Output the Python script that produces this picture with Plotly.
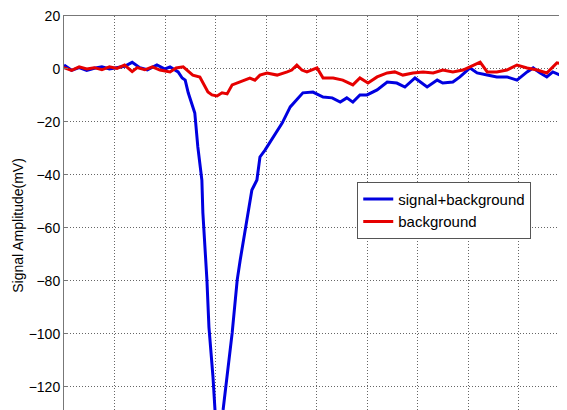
import plotly.graph_objects as go

# Sample axis (arbitrary units; gridlines every 10)
blue_x = [0, 1.5, 3, 4.5, 6, 7.5, 9, 10.5, 12, 13.5, 15, 16.5, 18.4, 20, 21, 22.6,
          23.4, 24.0, 24.6, 25.9, 26.5, 27.3, 27.5, 28.3, 28.7, 29.5, 29.9, 30.7,
          31.5, 33.3, 34.3, 34.9, 36.2, 37.2, 38.2, 38.8, 39.8, 41.4, 43.2, 44.8,
          47.3, 49.3, 51.3, 53.1, 54.7, 56.0, 57.2, 58.6, 60.0, 62.0, 64.0, 65.9,
          67.5, 69.5, 71.9, 73.9, 75.0, 77.0, 78.4, 80.4, 81.8, 83.8, 85.7, 87.7,
          89.7, 91.7, 92.9, 94.3, 95.6, 96.8, 98.2, 99.6]
blue_y = [1.5, -0.5, 0.5, -0.5, 0.3, 0.8, 0, 0.5, 1, 2.5, 0.5, -0.3, 1.5, 0, 0.8, -1.1,
          -3.4, -4.2, -9, -16.6, -29.4, -41.9, -54.3, -79.6, -97.4, -116.2, -128.7, -135,
          -128.7, -99.6, -79.6, -72, -57, -45.7, -41.9, -33.2, -30.6, -25.7, -20.4, -14.3,
          -9, -8.7, -10.6, -10.9, -12.5, -10.9, -12.5, -9.8, -9.8, -7.9, -4.9, -5.3,
          -6.8, -3.4, -6.8, -4.2, -5.3, -4.9, -3, 0.4, -1.5, -2.3, -3, -3,
          -4.2, -1.1, 0.4, -1.5, -3, -1.1, -2.3, 0.4]

red_x = [0, 1.5, 3, 4.5, 6, 7.5, 9, 10.5, 12, 13.5, 14.5, 16, 17.5, 19, 21.0, 22.2,
         23.6, 25.5, 26.9, 28.5, 29.3, 30.3, 31.3, 32.3, 33.3, 34.9, 36.8, 37.8,
         38.8, 40.2, 42.2, 44.2, 45.1, 46.1, 47.1, 48.1, 50.1, 51.3, 53.3, 55.2,
         57.2, 58.6, 60.2, 62.0, 64.0, 65.5, 67.1, 69.1, 71.1, 73.1, 75.0, 77.0,
         79.0, 80.4, 82.4, 83.8, 85.7, 87.7, 89.7, 91.7, 93.7, 95.6, 97.6, 99.6]
red_y = [0.5, -0.5, 0.8, 0, 0.5, -0.3, 0.8, 0.2, 1.5, -1, 0.5, -0.3, 0.8, -0.4, -1.1, 0.4,
         0.8, -2.3, -3, -8.7, -9.8, -10.2, -9, -9.4, -6, -4.9, -3.4, -4.2,
         -2.3, -1.5, -2.3, -1.1, -0.4, 1.5, -0.4, -1.1, 0.4, -3.4, -3.4, -4.2,
         -6, -3.4, -5.3, -3, -1.5, -1.1, -2.3, -1.5, -1.1, -1.5, -0.4, -1.1,
         -0.4, 0.8, 2.6, -1.1, -1.1, -0.4, 1.5, 0.4, -0.4, -1.5, 2.3, 1.5]

y_ticks = [20, 0, -20, -40, -60, -80, -100, -120]
y_title = "Signal Amplitude(mV)"

fig = go.Figure()
fig.add_trace(go.Scatter(x=blue_x, y=blue_y, mode="lines", name="signal+background",
                         line=dict(color="#0000E0", width=3)))
fig.add_trace(go.Scatter(x=red_x, y=red_y, mode="lines", name="background",
                         line=dict(color="#E60000", width=3)))

font = "Liberation Sans, Arial, sans-serif"
# page body has an 8px margin, so the figure is sized/offset to fill the window
fig.update_layout(
    width=559, height=402,
    margin=dict(l=56, r=0, t=8, b=0, autoexpand=False),
    paper_bgcolor="white", plot_bgcolor="white",
    font=dict(family=font, size=14, color="black"),
    showlegend=True,
    legend=dict(x=0.583, y=0.579, xanchor="left", yanchor="top",
                bgcolor="white", bordercolor="#555", borderwidth=1,
                font=dict(size=15), tracegroupgap=0, itemwidth=30),
    xaxis=dict(range=[0, 99.6], dtick=10, tick0=0, showticklabels=False,
               showgrid=True, gridcolor="#666", griddash="1px,2px", gridwidth=1,
               showline=True, linecolor="#777", linewidth=1, mirror=True,
               ticks="", zeroline=False, automargin=False),
    yaxis=dict(range=[-128.7, 20], tickvals=y_ticks,
               showgrid=True, gridcolor="#666", griddash="1px,2px", gridwidth=1,
               showline=True, linecolor="#777", linewidth=1,
               ticks="inside", ticklen=4, tickcolor="#777",
               ticklabeloverflow="allow",
               zeroline=False, tickfont=dict(size=14), automargin=False),
    annotations=[dict(text=y_title, xref="paper", yref="paper", x=-0.0915, y=0.47,
                      textangle=-90, showarrow=False, xanchor="center", yanchor="middle",
                      font=dict(size=14))],
)

fig.write_html("out.html")
